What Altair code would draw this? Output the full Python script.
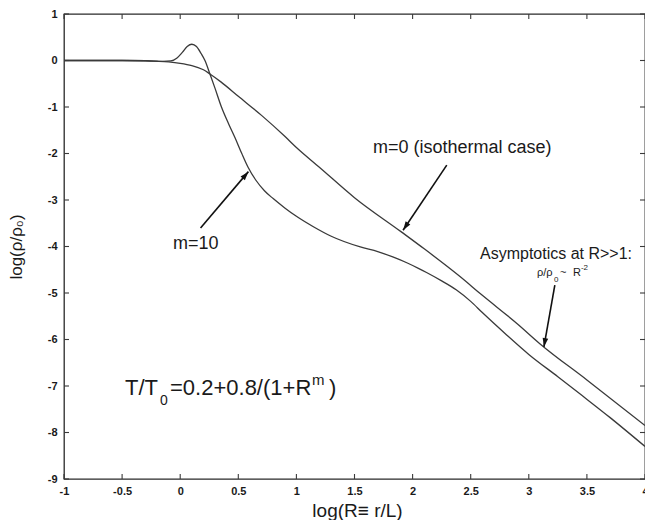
import math
import altair as alt
import pandas as pd

# ---------------- data ----------------
iso_x = [-1.0, -0.5, -0.3, -0.2, -0.1, 0.0, 0.1, 0.2, 0.256, 0.35, 0.5, 0.7, 0.9, 1.0,
         1.2, 1.5, 1.9, 2.1, 2.4, 2.6, 2.9, 3.1, 3.5, 4.0]
iso_y = [0.0, 0.0, -0.005, -0.015, -0.03, -0.06, -0.11, -0.2, -0.29, -0.46, -0.77, -1.18,
         -1.63, -1.87, -2.3, -2.95, -3.68, -4.05, -4.63, -5.05, -5.66, -6.1, -6.87, -7.85]

m10_x = [-1.0, -0.5, -0.3, -0.15, -0.08, -0.03, 0.02, 0.06, 0.1, 0.14, 0.18, 0.213, 0.256,
         0.3, 0.355, 0.42, 0.47, 0.53, 0.583, 0.65, 0.725, 0.8, 0.9, 1.0, 1.15, 1.3, 1.55,
         1.7, 1.835, 1.95, 2.05, 2.12, 2.25, 2.375, 2.5, 2.6, 2.8, 3.0, 3.25, 3.456, 3.7, 4.0]
m10_y = [0.0, 0.0, -0.005, -0.02, -0.01, 0.05, 0.18, 0.3, 0.35, 0.3, 0.15, 0.0, -0.29,
         -0.6, -1.0, -1.38, -1.65, -2.0, -2.29, -2.57, -2.8, -2.97, -3.17, -3.35, -3.58,
         -3.78, -4.01, -4.11, -4.23, -4.35, -4.47, -4.56, -4.74, -4.93, -5.18, -5.42,
         -5.88, -6.32, -6.8, -7.2, -7.68, -8.3]

x_ticks = [-1, -0.5, 0, 0.5, 1, 1.5, 2, 2.5, 3, 3.5, 4]
y_ticks = [-9, -8, -7, -6, -5, -4, -3, -2, -1, 0, 1]

# arrows: (from_x, from_y) -> (to_x, to_y)
arrow_from_x = [0.175, 2.294, 3.224]
arrow_from_y = [-3.60, -2.25, -4.83]
arrow_to_x = [0.587, 1.918, 3.130]
arrow_to_y = [-2.39, -3.65, -6.16]

# annotation anchors (data coordinates)
label_m0 = (1.659, -1.99)
label_m10 = (-0.062, -4.05)
label_asym = (2.58, -4.27)
label_rho = (3.07, -4.634)
label_formula = (-0.475, -7.19)

# ---------------- chart ----------------
W, H = 581, 465
X_DOMAIN = [-1, 4]
Y_DOMAIN = [-9, 1]
FONT = "Liberation Sans"
INK = "#1a1a1a"
LINE = "#3a3a3a"

xs = alt.Scale(domain=X_DOMAIN, nice=False, zero=False)
ys = alt.Scale(domain=Y_DOMAIN, nice=False, zero=False)

curves = pd.concat([
    pd.DataFrame({"x": iso_x, "y": iso_y, "series": "m=0"}),
    pd.DataFrame({"x": m10_x, "y": m10_y, "series": "m=10"}),
])

x_axis = alt.Axis(values=x_ticks, title="log(R≡ r/L)", grid=False, ticks=False, tickSize=0,
                  domain=False, labelFlush=False, labelExpr="'' + datum.value",
                  labelFont=FONT, labelFontSize=11, labelFontWeight="bold", labelColor=INK,
                  labelPadding=6, titleFont=FONT, titleFontSize=19, titleFontWeight="normal",
                  titleColor=INK, titleX=293, titleY=37, titleBaseline="alphabetic",
                  titleAlign="center")
y_axis = alt.Axis(values=y_ticks, title="log(ρ/ρ₀)", grid=False, ticks=False, tickSize=0,
                  domain=False, labelFlush=False, labelExpr="'' + datum.value",
                  labelFont=FONT, labelFontSize=11, labelFontWeight="bold", labelColor=INK,
                  labelPadding=7, titleFont=FONT, titleFontSize=17, titleFontWeight="normal",
                  titleColor=INK, titleAngle=270, titleX=-48, titleY=H / 2,
                  titleAlign="center", titleBaseline="middle")


def X(field):
    return alt.X(field, scale=xs, axis=x_axis)


def Y(field):
    return alt.Y(field, scale=ys, axis=y_axis)


lines = alt.Chart(curves).mark_line(color=LINE, strokeWidth=1.3, interpolate="monotone").encode(
    x=X("x:Q"), y=Y("y:Q"), detail="series:N")

# inward tick marks on all four sides
xt = pd.DataFrame({"x": x_ticks})
yt = pd.DataFrame({"y": y_ticks})
tick_style = dict(color=LINE, strokeWidth=1.1)
ticks_bottom = alt.Chart(xt).mark_rule(**tick_style).encode(
    x=X("x:Q"), y=alt.value(H), y2=alt.value(H - 5))
ticks_top = alt.Chart(xt).mark_rule(**tick_style).encode(
    x=X("x:Q"), y=alt.value(0), y2=alt.value(5))
ticks_left = alt.Chart(yt).mark_rule(**tick_style).encode(
    y=Y("y:Q"), x=alt.value(0), x2=alt.value(5))
ticks_right = alt.Chart(yt).mark_rule(**tick_style).encode(
    y=Y("y:Q"), x=alt.value(W), x2=alt.value(W - 5))

# arrows
SX = W / (X_DOMAIN[1] - X_DOMAIN[0])
SY = H / (Y_DOMAIN[1] - Y_DOMAIN[0])
angles = []
for fx, fy, tx, ty in zip(arrow_from_x, arrow_from_y, arrow_to_x, arrow_to_y):
    dxp = (tx - fx) * SX
    dyp = -(ty - fy) * SY
    angles.append(math.degrees(math.atan2(dxp, -dyp)) % 360)
arrows = pd.DataFrame({"x": arrow_from_x, "y": arrow_from_y,
                       "tx": arrow_to_x, "ty": arrow_to_y, "a": angles})
shafts = alt.Chart(arrows).mark_rule(color="#111", strokeWidth=1.6).encode(
    x=X("x:Q"), y=Y("y:Q"), x2="tx:Q", y2="ty:Q")
heads = alt.Chart(arrows).mark_point(
    shape="M0,0L0.7,2.2L-0.7,2.2Z", filled=True, color="#111", opacity=1, size=64).encode(
    x=X("tx:Q"), y=Y("ty:Q"), angle=alt.Angle("a:Q", scale=None))


def txt(pos, s, size, dx=0, dy=0):
    df = pd.DataFrame({"x": [pos[0]], "y": [pos[1]], "t": [s]})
    return alt.Chart(df).mark_text(
        font=FONT, fontSize=size, color=INK, align="left", baseline="alphabetic",
        dx=dx, dy=dy).encode(x=X("x:Q"), y=Y("y:Q"), text="t:N")


texts = [
    txt(label_m0, "m=0 (isothermal case)", 18),
    txt(label_m10, "m=10", 18),
    txt(label_asym, "Asymptotics at R>>1:", 16),
    txt(label_rho, "ρ/ρ", 11),
    txt(label_rho, "0", 8, dx=17, dy=6),
    txt(label_rho, "~", 11, dx=23),
    txt(label_rho, "R", 11, dx=36),
    txt(label_rho, "-2", 8, dx=44, dy=-6),
    txt(label_formula, "T/T", 22),
    txt(label_formula, "0", 14, dx=35, dy=10),
    txt(label_formula, "=0.2+0.8/(1+R", 22, dx=45),
    txt(label_formula, "m", 15, dx=187, dy=-10),
    txt(label_formula, ")", 22, dx=204),
]

chart = alt.layer(
    lines, ticks_bottom, ticks_top, ticks_left, ticks_right, shafts, heads, *texts
).properties(
    width=W, height=H,
    autosize=alt.AutoSizeParams(type="none"),
    padding={"left": 56, "top": 6, "right": 0, "bottom": 41},
    background="white",
).configure_view(
    stroke="#2a2a2a", strokeWidth=1.3
)

chart.save("out.html", embed_options={"renderer": "svg", "actions": False})
